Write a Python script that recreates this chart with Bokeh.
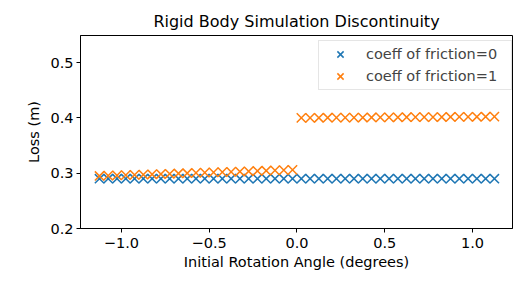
from bokeh.plotting import figure
from bokeh.models import Range1d, FixedTicker, CustomJSTickFormatter, Legend, LegendItem
from bokeh.embed import file_html
from bokeh.resources import INLINE

angles = [-1.125, -1.075, -1.025, -0.975, -0.925, -0.875, -0.825, -0.775, -0.725, -0.675,
          -0.625, -0.575, -0.525, -0.475, -0.425, -0.375, -0.325, -0.275, -0.225, -0.175,
          -0.125, -0.075, -0.025, 0.025, 0.075, 0.125, 0.175, 0.225, 0.275, 0.325,
          0.375, 0.425, 0.475, 0.525, 0.575, 0.625, 0.675, 0.725, 0.775, 0.825,
          0.875, 0.925, 0.975, 1.025, 1.075, 1.125]

loss_friction0 = [0.290, 0.290, 0.290, 0.290, 0.290, 0.290, 0.290, 0.290, 0.290, 0.290,
                  0.290, 0.290, 0.290, 0.290, 0.290, 0.290, 0.290, 0.290, 0.290, 0.290,
                  0.290, 0.290, 0.290, 0.290, 0.290, 0.290, 0.290, 0.290, 0.290, 0.290,
                  0.290, 0.290, 0.290, 0.290, 0.290, 0.290, 0.290, 0.290, 0.290, 0.290,
                  0.290, 0.290, 0.290, 0.290, 0.290, 0.290]

loss_friction1 = [0.2950, 0.2955, 0.2960, 0.2965, 0.2970, 0.2975, 0.2980, 0.2985, 0.2990, 0.2995,
                  0.3000, 0.3005, 0.3010, 0.3015, 0.3020, 0.3025, 0.3030, 0.3035, 0.3040, 0.3045,
                  0.3050, 0.3055, 0.3060,
                  0.4000, 0.4001, 0.4002, 0.4003, 0.4004, 0.4005, 0.4006, 0.4007, 0.4008, 0.4009,
                  0.4010, 0.4011, 0.4012, 0.4013, 0.4014, 0.4015, 0.4016, 0.4017, 0.4018, 0.4019,
                  0.4020, 0.4021, 0.4022]

x_ticks = [-1.0, -0.5, 0.0, 0.5, 1.0]
y_ticks = [0.2, 0.3, 0.4, 0.5]

FONT = "DejaVu Sans"
BLUE = "#1f77b4"
ORANGE = "#ff7f0e"

p = figure(width=532, height=283, output_backend="svg", toolbar_location=None,
           x_range=Range1d(-1.233, 1.228), y_range=Range1d(0.2, 0.549),
           min_border_left=80, min_border_right=20, min_border_top=35, min_border_bottom=55,
           title="Rigid Body Simulation Discontinuity")

p.title.text_font = FONT
p.title.text_font_size = "16px"
p.title.text_font_style = "normal"
p.title.align = "center"
p.title.text_color = "black"

p.xgrid.visible = False
p.ygrid.visible = False
p.outline_line_color = "black"
p.outline_line_width = 1
p.background_fill_color = "white"
p.border_fill_color = "white"

fmt = CustomJSTickFormatter(code="return tick.toFixed(1).replace('-', '\\u2212');")
for ax, ticks, label in ((p.xaxis[0], x_ticks, "Initial Rotation Angle (degrees)"),
                         (p.yaxis[0], y_ticks, "Loss (m)")):
    ax.ticker = FixedTicker(ticks=ticks)
    ax.formatter = fmt
    ax.axis_label = label
    ax.axis_label_text_font = FONT
    ax.axis_label_text_font_size = "14.5px"
    ax.axis_label_text_font_style = "normal"
    ax.axis_label_text_color = "black"
    ax.major_label_text_font = FONT
    ax.major_label_text_font_size = "14.5px"
    ax.major_label_text_color = "black"
    ax.major_tick_in = 0
    ax.major_tick_out = 4
    ax.major_tick_line_color = "black"
    ax.minor_tick_line_color = None
    ax.axis_line_color = "black"

p.xaxis[0].major_label_standoff = 5
p.xaxis[0].axis_label_standoff = 3
p.yaxis[0].major_label_standoff = 3
p.yaxis[0].axis_label_standoff = 5

r0 = p.scatter(angles, loss_friction0, marker="x", size=13, line_color=BLUE, line_width=1.5)
r1 = p.scatter(angles, loss_friction1, marker="x", size=13, line_color=ORANGE, line_width=1.5)

legend = Legend(items=[LegendItem(label="coeff of friction=0", renderers=[r0]),
                       LegendItem(label="coeff of friction=1", renderers=[r1])],
                location=(238, 138), padding=2, spacing=0,
                glyph_width=38, glyph_height=22, label_height=22, label_width=143,
                label_standoff=7,
                label_text_font=FONT, label_text_font_size="14.5px",
                border_line_color="#cccccc", border_line_width=1,
                background_fill_alpha=0.8)
p.add_layout(legend)

open("out.html", "w").write(file_html(p, INLINE))
